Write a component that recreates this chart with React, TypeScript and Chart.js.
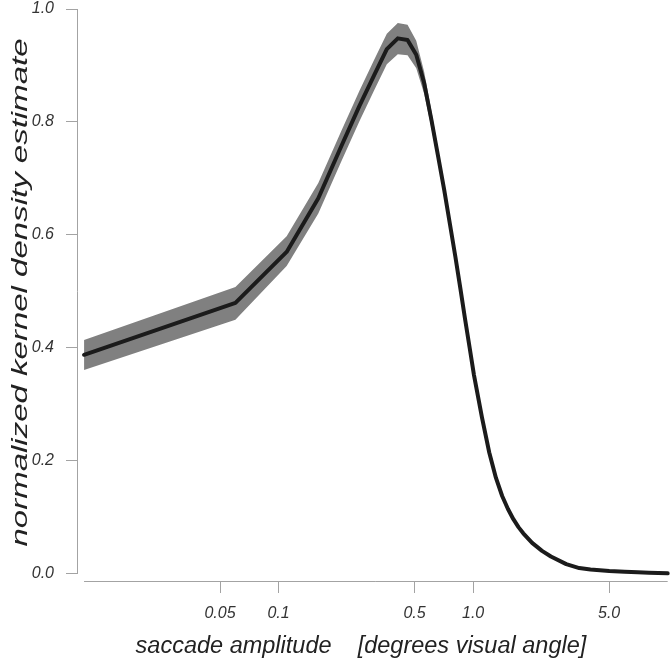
import React, { useEffect, useRef } from "react";
import { Chart, registerables } from "chart.js";

Chart.register(...registerables);

// saccade amplitude (degrees visual angle)
const amplitude = [
  0.01, 0.06, 0.11, 0.16, 0.21, 0.26, 0.31, 0.36, 0.41, 0.46, 0.51, 0.56, 0.61,
  0.66, 0.71, 0.76, 0.81, 0.86, 0.91, 0.96, 1.01, 1.11, 1.21, 1.31, 1.41, 1.51,
  1.61, 1.71, 1.81, 2.01, 2.26, 2.51, 3.01, 3.51, 4.01, 5.01, 6.01, 7.01, 8.01, 10.0,
];
// normalized kernel density estimate (mean)
const density = [
  0.388, 0.48, 0.57, 0.665, 0.757, 0.828, 0.883, 0.929, 0.948, 0.945, 0.919, 0.869,
  0.804, 0.74, 0.68, 0.619, 0.562, 0.505, 0.45, 0.4, 0.352, 0.277, 0.215, 0.17,
  0.138, 0.115, 0.097, 0.083, 0.072, 0.055, 0.041, 0.031, 0.0175, 0.0105, 0.0078,
  0.0052, 0.004, 0.003, 0.0023, 0.0012,
];
// confidence band
const upperCI = [
  0.414, 0.508, 0.598, 0.692, 0.784, 0.855, 0.91, 0.956, 0.975, 0.972, 0.944, 0.889,
  0.82, 0.752, 0.692, 0.629, 0.571, 0.513, 0.457, 0.406, 0.357, 0.282, 0.219, 0.174,
  0.141, 0.118, 0.1, 0.086, 0.074, 0.057, 0.042, 0.032, 0.0185, 0.011, 0.0082,
  0.0055, 0.0043, 0.0033, 0.0025, 0.0014,
];
const lowerCI = [
  0.361, 0.45, 0.545, 0.638, 0.73, 0.801, 0.856, 0.902, 0.92, 0.918, 0.895, 0.85,
  0.79, 0.728, 0.668, 0.609, 0.553, 0.497, 0.443, 0.394, 0.347, 0.272, 0.211, 0.166,
  0.135, 0.112, 0.094, 0.08, 0.07, 0.053, 0.04, 0.03, 0.0165, 0.01, 0.0074,
  0.0049, 0.0037, 0.0027, 0.0021, 0.001,
];

const xTickValues = [0.05, 0.1, 0.5, 1, 5];
const xTickLabels = ["0.05", "0.1", "0.5", "1.0", "5.0"];
const yTickValues = [0, 0.2, 0.4, 0.6, 0.8, 1.0];
const yTickLabels = ["0.0", "0.2", "0.4", "0.6", "0.8", "1.0"];
const xAxisLineRange = [0.01, 10];
const yAxisLineRange = [0, 1];
const xTitle = "saccade amplitude    [degrees visual angle]    ";
const yTitle = "normalized kernel density estimate";

const AXIS_GRAY = "#a3a3a3";
const FONT = "'Liberation Sans', Arial, Helvetica, sans-serif";

const alignPx = (p: number, w: number) => Math.round(p - w / 2) + w / 2;

const axisLinesPlugin = {
  id: "rAxisLines",
  afterDraw(chart: any) {
    const { ctx, chartArea, scales } = chart;
    const xs = scales.x;
    const ys = scales.y;
    ctx.save();
    ctx.strokeStyle = AXIS_GRAY;
    ctx.lineWidth = 1;
    ctx.beginPath();
    const lx = alignPx(chartArea.left, 1);
    ctx.moveTo(lx, ys.getPixelForValue(yAxisLineRange[0]));
    ctx.lineTo(lx, ys.getPixelForValue(yAxisLineRange[1]));
    const by = alignPx(chartArea.bottom, 1);
    ctx.moveTo(xs.getPixelForValue(xAxisLineRange[0]), by);
    ctx.lineTo(xs.getPixelForValue(xAxisLineRange[1]), by);
    ctx.stroke();

    // stretched y-axis title, as in the reference figure
    const ys0 = ys.getPixelForValue(yAxisLineRange[0]);
    const ys1 = ys.getPixelForValue(yAxisLineRange[1]);
    ctx.translate(21, (ys0 + ys1) / 2 + 1);
    ctx.rotate(-Math.PI / 2);
    ctx.scale(1.5, 1);
    ctx.font = `italic 22px ${FONT}`;
    ctx.fillStyle = "#222";
    ctx.textAlign = "center";
    ctx.textBaseline = "middle";
    ctx.fillText(yTitle, 0, 0);
    ctx.restore();
  },
};

export default function App() {
  const canvasRef = useRef<HTMLCanvasElement | null>(null);

  useEffect(() => {
    if (!canvasRef.current) return;
    const pts = (arr: number[]) => amplitude.map((x, i) => ({ x, y: arr[i] }));
    const chart = new Chart(canvasRef.current, {
      type: "line",
      data: {
        datasets: [
          {
            label: "density",
            data: pts(density),
            borderColor: "#1b1b1b",
            borderWidth: 4,
            pointRadius: 0,
            fill: false,
            tension: 0,
            borderCapStyle: "round",
            borderJoinStyle: "round",
            order: 0,
          },
          {
            label: "upper",
            data: pts(upperCI),
            borderWidth: 0,
            borderColor: "rgba(0,0,0,0)",
            backgroundColor: "#808080",
            pointRadius: 0,
            fill: "+1",
            tension: 0,
            order: 1,
          },
          {
            label: "lower",
            data: pts(lowerCI),
            borderWidth: 0,
            borderColor: "rgba(0,0,0,0)",
            pointRadius: 0,
            fill: false,
            tension: 0,
            order: 2,
          },
        ],
      },
      options: {
        animation: false,
        responsive: true,
        maintainAspectRatio: false,
        layout: { padding: { top: 9, left: 0, right: 0, bottom: 0 } },
        plugins: {
          legend: { display: false },
          tooltip: { enabled: false },
        },
        scales: {
          x: {
            type: "logarithmic",
            min: 0.0092,
            max: 10.4,
            afterBuildTicks: (s: any) => {
              s.ticks = xTickValues.map((v) => ({ value: v }));
            },
            afterFit: (s: any) => {
              s.height = 81;
            },
            border: { display: false },
            grid: {
              display: true,
              drawOnChartArea: false,
              drawTicks: true,
              tickLength: 12,
              color: AXIS_GRAY,
              lineWidth: 1,
            },
            ticks: {
              autoSkip: false,
              maxRotation: 0,
              minRotation: 0,
              padding: 11,
              color: "#333",
              font: { family: FONT, size: 16, style: "italic", lineHeight: 1.2 },
              callback: (v: any) => {
                const i = xTickValues.indexOf(Number(v));
                return i >= 0 ? xTickLabels[i] : "";
              },
            },
            title: {
              display: true,
              text: xTitle,
              color: "#222",
              font: { family: FONT, size: 23.5, style: "italic", lineHeight: 1 },
              padding: { top: 5, bottom: 4 },
            },
          },
          y: {
            type: "linear",
            min: -0.0124,
            max: 1.0,
            afterBuildTicks: (s: any) => {
              s.ticks = yTickValues.map((v) => ({ value: v }));
            },
            afterFit: (s: any) => {
              s.width = 77;
              s.paddingTop = 9;
              s.paddingBottom = 0;
            },
            border: { display: false },
            grid: {
              display: true,
              drawOnChartArea: false,
              drawTicks: true,
              tickLength: 11,
              color: AXIS_GRAY,
              lineWidth: 1,
            },
            ticks: {
              autoSkip: false,
              padding: 12,
              color: "#333",
              font: { family: FONT, size: 16, style: "italic", lineHeight: 1.2 },
              callback: (v: any) => {
                const i = yTickValues.findIndex((t) => Math.abs(t - Number(v)) < 1e-9);
                return i >= 0 ? yTickLabels[i] : "";
              },
            },
            title: { display: false },
          },
        },
      },
      plugins: [axisLinesPlugin],
    } as any);
    return () => chart.destroy();
  }, []);

  return (
    <div
      style={{
        position: "fixed",
        left: 0,
        top: 0,
        width: 671,
        height: 662,
        background: "#fff",
      }}
    >
      <canvas ref={canvasRef} />
    </div>
  );
}
